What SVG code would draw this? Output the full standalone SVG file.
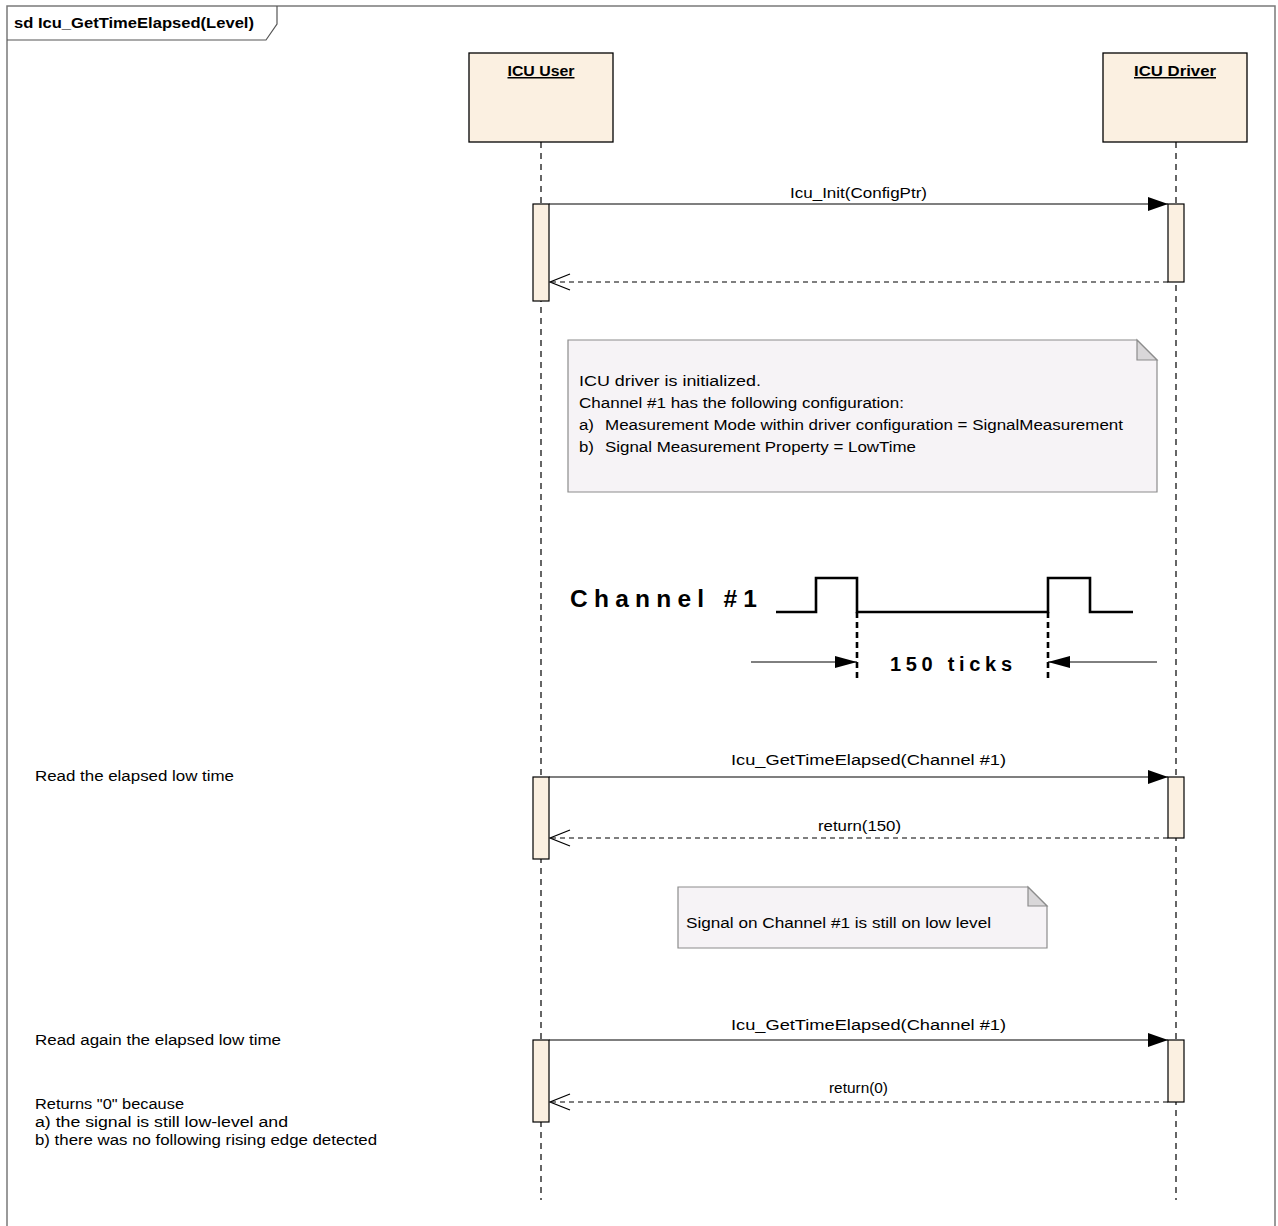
<svg xmlns="http://www.w3.org/2000/svg" width="1278" height="1226" viewBox="0 0 1278 1226">
<defs>
<style>
text{font-family:"Liberation Sans",Arial,sans-serif;fill:#000}
.t{font-size:15.5px}
.b{font-weight:bold}
.life{stroke:#000;stroke-width:1.2;stroke-dasharray:6,5;fill:none}
.box{fill:#FBF0E1;stroke:#000;stroke-width:1.3}
.act{fill:#FBF0E1;stroke:#000;stroke-width:1.2}
.msg{stroke:#000;stroke-width:1.2;fill:none}
.ret{stroke:#000;stroke-width:1.2;fill:none;stroke-dasharray:5,4}
.note{fill:#F6F3F6;stroke:#8C8C8C;stroke-width:1.2}
.fold{fill:#D9D7D9;stroke:#8C8C8C;stroke-width:1.2}
.wave{stroke:#000;stroke-width:2.6;fill:none}
</style>
<marker id="fill" markerWidth="20" markerHeight="14" refX="20" refY="7" orient="auto" markerUnits="userSpaceOnUse">
<path d="M0,0 L20,7 L0,14 Z" fill="#000"/>
</marker>
<marker id="open" markerWidth="22" markerHeight="18" refX="21" refY="9" orient="auto" markerUnits="userSpaceOnUse">
<path d="M1,1 L21,9 L1,17" fill="none" stroke="#000" stroke-width="1.3"/>
</marker>
<marker id="small" markerWidth="22" markerHeight="14" refX="22" refY="7" orient="auto" markerUnits="userSpaceOnUse">
<path d="M0,1 L22,7 L0,13 Z" fill="#000"/>
</marker>
</defs>
<rect width="1278" height="1226" fill="#fff"/>
<g id="frame">
<path d="M7,1240 L7,6 L1275,6 L1275,1240" fill="none" stroke="#7A7A7A" stroke-width="1.5"/>
<path d="M7,40 L266,40 L277,24 L277,6" fill="none" stroke="#555" stroke-width="1.2"/>
<text class="b" x="14" y="28" font-size="15" textLength="240" lengthAdjust="spacingAndGlyphs">sd Icu_GetTimeElapsed(Level)</text>
</g>
<g id="lifelines">
<line class="life" x1="541" y1="142" x2="541" y2="1200"/>
<line class="life" x1="1176" y1="142" x2="1176" y2="1200"/>
</g>
<g id="icu-user">
<rect class="box" x="469" y="53" width="144" height="89"/>
<text class="b" x="541" y="76" font-size="15" text-anchor="middle" text-decoration="underline" textLength="67" lengthAdjust="spacingAndGlyphs">ICU User</text>
</g>
<g id="icu-driver">
<rect class="box" x="1103" y="53" width="144" height="89"/>
<text class="b" x="1175" y="76" font-size="15" text-anchor="middle" text-decoration="underline" textLength="82" lengthAdjust="spacingAndGlyphs">ICU Driver</text>
</g>
<g id="activations">
<rect class="act" x="533" y="204" width="16" height="97"/>
<rect class="act" x="1168" y="204" width="16" height="78"/>
<rect class="act" x="533" y="777" width="16" height="82"/>
<rect class="act" x="1168" y="777" width="16" height="61"/>
<rect class="act" x="533" y="1040" width="16" height="82"/>
<rect class="act" x="1168" y="1040" width="16" height="62"/>
</g>
<g id="connectors">
<line class="msg" x1="549" y1="204" x2="1168" y2="204" marker-end="url(#fill)"/>
<line class="ret" x1="1168" y1="282" x2="550" y2="282" marker-end="url(#open)"/>
<line class="msg" x1="549" y1="777" x2="1168" y2="777" marker-end="url(#fill)"/>
<line class="ret" x1="1168" y1="838" x2="550" y2="838" marker-end="url(#open)"/>
<line class="msg" x1="549" y1="1040" x2="1168" y2="1040" marker-end="url(#fill)"/>
<line class="ret" x1="1168" y1="1102" x2="550" y2="1102" marker-end="url(#open)"/>
</g>
<g id="labels" class="t">
<text x="790" y="198" textLength="137" lengthAdjust="spacingAndGlyphs">Icu_Init(ConfigPtr)</text>
<text x="731" y="765" textLength="275" lengthAdjust="spacingAndGlyphs">Icu_GetTimeElapsed(Channel #1)</text>
<text x="818" y="831" textLength="83" lengthAdjust="spacingAndGlyphs">return(150)</text>
<text x="731" y="1030" textLength="275" lengthAdjust="spacingAndGlyphs">Icu_GetTimeElapsed(Channel #1)</text>
<text x="829" y="1093" textLength="59" lengthAdjust="spacingAndGlyphs">return(0)</text>
</g>
<g id="note-init">
<path class="note" d="M568,340 L1137,340 L1157,360 L1157,492 L568,492 Z"/>
<path class="fold" d="M1137,340 L1137,360 L1157,360 Z"/>
<text class="t" x="579" y="386" textLength="182" lengthAdjust="spacingAndGlyphs">ICU driver is initialized.</text>
<text class="t" x="579" y="408" textLength="325" lengthAdjust="spacingAndGlyphs">Channel #1 has the following configuration:</text>
<text class="t" x="579" y="430" textLength="15" lengthAdjust="spacingAndGlyphs">a)</text>
<text class="t" x="605" y="430" textLength="518" lengthAdjust="spacingAndGlyphs">Measurement Mode within driver configuration = SignalMeasurement</text>
<text class="t" x="579" y="452" textLength="15" lengthAdjust="spacingAndGlyphs">b)</text>
<text class="t" x="605" y="452" textLength="311" lengthAdjust="spacingAndGlyphs">Signal Measurement Property = LowTime</text>
</g>
<g id="signal">
<text class="b" x="570" y="607" font-size="24.5" textLength="187" lengthAdjust="spacing">Channel #1</text>
<path class="wave" d="M776,612 L816,612 L816,578 L857,578 L857,612 L1048,612 L1048,578 L1090,578 L1090,612 L1133,612"/>
<line x1="857" y1="612" x2="857" y2="681" stroke="#000" stroke-width="2.6" stroke-dasharray="6,4"/>
<line x1="1048" y1="612" x2="1048" y2="681" stroke="#000" stroke-width="2.6" stroke-dasharray="6,4"/>
<line x1="751" y1="662" x2="857" y2="662" stroke="#000" stroke-width="1" marker-end="url(#small)"/>
<line x1="1157" y1="662" x2="1048" y2="662" stroke="#000" stroke-width="1" marker-end="url(#small)"/>
<text class="b" x="890" y="671" font-size="20" textLength="122" lengthAdjust="spacing">150 ticks</text>
</g>
<g id="note-low">
<path class="note" d="M678,887 L1028,887 L1047,906 L1047,948 L678,948 Z"/>
<path class="fold" d="M1028,887 L1028,906 L1047,906 Z"/>
<text class="t" x="686" y="928" textLength="305" lengthAdjust="spacingAndGlyphs">Signal on Channel #1 is still on low level</text>
</g>
<g id="comments" class="t">
<text x="35" y="781" textLength="199" lengthAdjust="spacingAndGlyphs">Read the elapsed low time</text>
<text x="35" y="1045" textLength="246" lengthAdjust="spacingAndGlyphs">Read again the elapsed low time</text>
<text x="35" y="1109" textLength="149" lengthAdjust="spacingAndGlyphs">Returns "0" because</text>
<text x="35" y="1127" textLength="253" lengthAdjust="spacingAndGlyphs">a) the signal is still low-level and</text>
<text x="35" y="1145" textLength="342" lengthAdjust="spacingAndGlyphs">b) there was no following rising edge detected</text>
</g>
</svg>
